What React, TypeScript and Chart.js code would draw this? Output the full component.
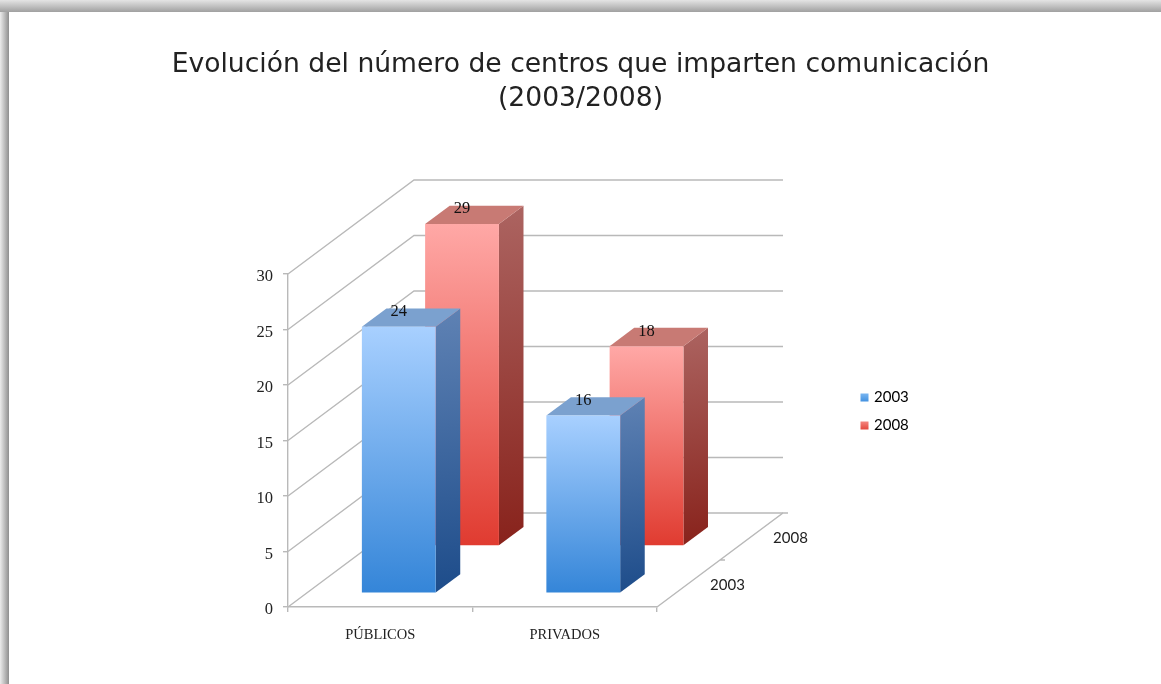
import React, { useEffect, useRef } from "react";
import { Chart, registerables } from "chart.js";

Chart.register(...registerables);

const categories = ["PÚBLICOS", "PRIVADOS"];
const seriesNames = ["2003", "2008"];
const values2003 = [24, 16];
const values2008 = [29, 18];
const titleLines = ["Evolución del número de centros que imparten comunicación", "(2003/2008)"];

const SERIF = "'Liberation Serif', serif";
const SANS = "Lato, sans-serif";
const GRID = "#b9b9b9";
const TEXT = "#222222";

// 3D projection of the floor: how far a point moves across the full depth of the plot
const DEPTH_X = 126;
const DEPTH_Y = 94;
const SERIES_DEPTH = [0.147, 0.649];
const BAR_DEPTH = 0.195;

const palette = [
  { frontTop: "#A8D0FF", frontBottom: "#3485D8", sideTop: "#5F82B4", sideBottom: "#1D4C8A", top: "#7BA1CF", legendA: "#7DB8F2", legendB: "#3F8FDF" },
  { frontTop: "#FFA8A6", frontBottom: "#E03B30", sideTop: "#AC6461", sideBottom: "#88221B", top: "#C87A74", legendA: "#F58A84", legendB: "#E2453A" },
];

function faces(ctx: any, meta: any, dsIndex: number) {
  const c = palette[dsIndex];
  const dx = DEPTH_X * BAR_DEPTH;
  const dy = DEPTH_Y * BAR_DEPTH;
  meta.data.forEach((el: any) => {
    const l = el.x - el.width / 2;
    const r = el.x + el.width / 2;
    const t = el.y;
    const b = el.base;
    const g = ctx.createLinearGradient(r, t - dy, r + dx, b);
    g.addColorStop(0, c.sideTop);
    g.addColorStop(1, c.sideBottom);
    ctx.fillStyle = g;
    ctx.beginPath();
    ctx.moveTo(r, t);
    ctx.lineTo(r + dx, t - dy);
    ctx.lineTo(r + dx, b - dy);
    ctx.lineTo(r, b);
    ctx.closePath();
    ctx.fill();
    ctx.fillStyle = c.top;
    ctx.beginPath();
    ctx.moveTo(l, t);
    ctx.lineTo(l + dx, t - dy);
    ctx.lineTo(r + dx, t - dy);
    ctx.lineTo(r, t);
    ctx.closePath();
    ctx.fill();
  });
}

const plot3d = {
  id: "plot3d",
  beforeDatasetsDraw(chart: any) {
    const { ctx, chartArea: a, scales } = chart;
    ctx.save();
    ctx.strokeStyle = GRID;
    ctx.lineWidth = 1.4;
    scales.y.ticks.forEach((t: any) => {
      const y = scales.y.getPixelForValue(t.value);
      ctx.beginPath();
      ctx.moveTo(a.left, y);
      ctx.lineTo(a.left + DEPTH_X, y - DEPTH_Y);
      ctx.lineTo(a.right + DEPTH_X, y - DEPTH_Y);
      ctx.stroke();
    });
    // floor edge on the right, with the depth ticks
    const fx = a.right;
    const fy = a.bottom;
    ctx.beginPath();
    ctx.moveTo(fx, fy);
    ctx.lineTo(fx + DEPTH_X, fy - DEPTH_Y);
    ctx.lineTo(fx + DEPTH_X + 5, fy - DEPTH_Y);
    ctx.moveTo(fx + DEPTH_X / 2, fy - DEPTH_Y / 2);
    ctx.lineTo(fx + DEPTH_X / 2 + 5, fy - DEPTH_Y / 2);
    ctx.stroke();
    // depth axis labels
    ctx.fillStyle = TEXT;
    ctx.font = `15px ${SANS}`;
    ctx.textAlign = "center";
    ctx.textBaseline = "middle";
    seriesNames.forEach((name, i) => {
      const d = (i + 0.5) / seriesNames.length;
      ctx.fillText(name, fx + DEPTH_X * d + 39, fy - DEPTH_Y * d + 2);
    });
    ctx.restore();
  },
  beforeDatasetDraw(chart: any, args: any) {
    const { ctx } = chart;
    const d = SERIES_DEPTH[args.index];
    ctx.save();
    ctx.translate(DEPTH_X * d, -DEPTH_Y * d);
    faces(ctx, args.meta, args.index);
  },
  afterDatasetDraw(chart: any, args: any) {
    const { ctx } = chart;
    const data = chart.data.datasets[args.index].data;
    ctx.fillStyle = "#111111";
    ctx.font = `16.5px ${SERIF}`;
    ctx.textAlign = "center";
    ctx.textBaseline = "middle";
    args.meta.data.forEach((el: any, i: number) => {
      ctx.fillText(String(data[i]), el.x, el.y - 15);
    });
    ctx.restore();
  },
  afterLayout(chart: any) {
    const lg = chart.legend;
    if (lg) {
      const pad = chart.options.plugins.legend.labels.padding;
      lg.left = 862.5 - pad;
      lg.right = lg.left + 100;
      lg.top = 390 - pad;
      lg.bottom = lg.top + 80;
    }
    const tt = chart.titleBlock;
    if (tt) {
      tt.left = 0;
      tt.right = chart.width;
      tt.width = chart.width;
    }
  },
};

function frontFill(i: number) {
  return (c: any) => {
    const { chart } = c;
    const col = palette[i];
    if (!chart.chartArea || c.raw === undefined) return col.frontBottom;
    const y = chart.scales.y;
    const g = chart.ctx.createLinearGradient(0, y.getPixelForValue(c.raw), 0, y.getPixelForValue(0));
    g.addColorStop(0, col.frontTop);
    g.addColorStop(1, col.frontBottom);
    return g;
  };
}

export default function App() {
  const ref = useRef<HTMLCanvasElement>(null);

  useEffect(() => {
    document.body.style.margin = "0";
    const chart = new Chart(ref.current as HTMLCanvasElement, {
      type: "bar",
      data: {
        labels: categories,
        datasets: [values2003, values2008].map((v, i) => ({
          label: seriesNames[i],
          data: v,
          backgroundColor: frontFill(i),
          barPercentage: 0.4,
          categoryPercentage: 1,
          grouped: false,
          clip: false,
        })) as any,
      },
      plugins: [plot3d],
      options: {
        responsive: false,
        animation: false,
        layout: { padding: { left: 248, right: 504, top: 0, bottom: 0 } },
        scales: {
          x: {
            grid: { drawOnChartArea: false, color: GRID, tickLength: 5, lineWidth: 1.4 },
            border: { color: GRID, width: 1.4 },
            ticks: { color: TEXT, font: { family: SERIF, size: 14.5 }, padding: 14, maxRotation: 0 },
            afterFit: (s: any) => { s.height = 77; },
          },
          y: {
            min: 0,
            max: 30,
            grid: { drawOnChartArea: false, color: GRID, tickLength: 5, lineWidth: 1.4 },
            border: { color: GRID, width: 1.4 },
            ticks: { stepSize: 5, color: TEXT, font: { family: SERIF, size: 16.5 }, padding: 10, labelOffset: 3 },
            afterFit: (s: any) => { s.width = 40; },
          },
        },
        plugins: {
          tooltip: { enabled: false },
          title: {
            display: true,
            text: titleLines,
            color: TEXT,
            font: { family: "'DejaVu Sans', sans-serif", size: 26.6, weight: "normal", lineHeight: 1.278 },
            padding: { top: 48, bottom: 158 },
          },
          legend: {
            position: "chartArea",
            align: "start",
            labels: {
              usePointStyle: true,
              pointStyle: "rect",
              boxWidth: 4,
              boxHeight: 8,
              padding: 13,
              color: TEXT,
              font: { family: SANS, size: 15 },
              generateLabels: (c: any) =>
                seriesNames.map((name, i) => {
                  const g = c.ctx.createLinearGradient(0, 393 + i * 28, 0, 402 + i * 28);
                  g.addColorStop(0, palette[i].legendA);
                  g.addColorStop(1, palette[i].legendB);
                  return { text: name, fillStyle: g, strokeStyle: "transparent", lineWidth: 0, pointStyle: "rect", datasetIndex: i, hidden: false };
                }),
            },
          },
        },
      } as any,
    });
    return () => chart.destroy();
  }, []);

  return (
    <div style={{ position: "relative", width: 1161, height: 684, overflow: "hidden", background: "#fff" }}>
      <div style={{ position: "absolute", left: 0, top: 0, width: 1161, height: 12, background: "linear-gradient(to bottom, #e4e4e4, #a0a0a0)" }} />
      <div style={{ position: "absolute", left: 0, top: 12, width: 9, height: 672, background: "linear-gradient(to right, #ececec, #8f8f8f)" }} />
      <canvas ref={ref} width={1161} height={684} style={{ position: "absolute", left: 0, top: 0 }} />
    </div>
  );
}
